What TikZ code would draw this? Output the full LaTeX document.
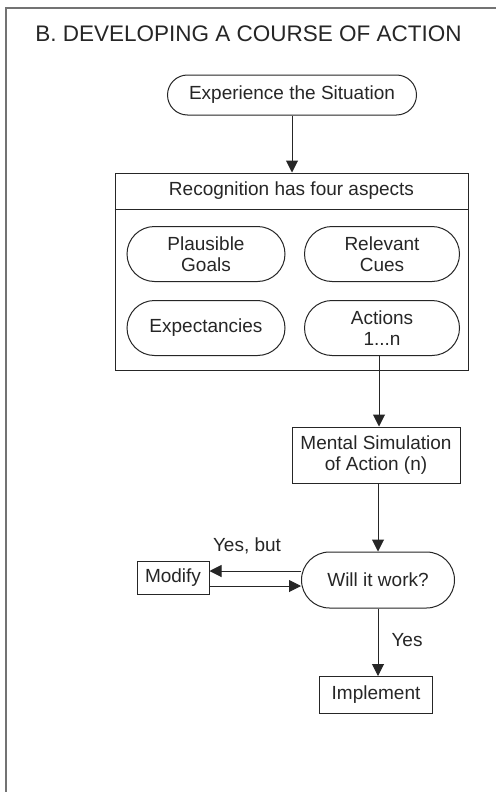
\documentclass[tikz,border=0pt]{standalone}
\usepackage{fontspec}
\setmainfont{Liberation Sans}
\usetikzlibrary{arrows.meta,shapes.misc}
\tikzset{
  lbl/.style={font=\fontsize{19}{21}\selectfont, text=black!85},
  pill/.style={draw=black!85, line width=1pt, rounded rectangle, inner sep=0pt, align=center, lbl},
  sqbox/.style={draw=black!85, line width=1pt, rectangle, inner sep=0pt, align=center, lbl},
  arr/.style={draw=black!85, line width=1pt, -{Triangle[length=12pt,width=12pt]}},
}
\begin{document}
\begin{tikzpicture}[x=1pt,y=-1pt]
\useasboundingbox (0,0) rectangle (496,792);
\fill[white] (0,0) rectangle (496,792);
% frame
\draw[black!55, line width=1.4pt] (6,792) -- (6,8) -- (496,8);
% title
\node[font=\fontsize{22.5}{26}\selectfont, text=black!85] (title) at (248.5,34) {B. DEVELOPING A COURSE OF ACTION};
% nodes
\node[pill, minimum width=249pt, minimum height=40pt] (exp) at (292,95) {Experience the Situation};
\node[sqbox, minimum width=353pt, minimum height=197pt] (rec) at (291.5,271.5) {};
\node[lbl, minimum height=36pt, inner sep=0pt] (hdr) at (291.5,191) {Recognition has four aspects};
\draw[black!85, line width=1pt] (rec.west |- hdr.south) -- (rec.east |- hdr.south);
\node[pill, minimum width=158pt, minimum height=55pt] (pg) at (206,254) {Plausible\\Goals};
\node[pill, minimum width=155pt, minimum height=55pt] (rc) at (382,254) {Relevant\\Cues};
\node[pill, minimum width=158pt, minimum height=55pt] (ex) at (206,328) {Expectancies};
\node[pill, minimum width=155pt, minimum height=55pt] (ac) at (382,328) {Actions\\1...n};
\node[sqbox, minimum width=168pt, minimum height=56pt] (ms) at (376,455) {Mental Simulation\\of Action (n)};
\node[pill, minimum width=153pt, minimum height=56pt] (ww) at (378,580) {Will it work?};
\node[sqbox, minimum width=72pt, minimum height=33pt] (mod) at (173,578) {Modify};
\node[sqbox, minimum width=113pt, minimum height=37pt] (imp) at (376,695) {Implement};
% labels
\node[lbl] (yb) at (247,546) {Yes, but};
\node[lbl] (yes) at (407,640) {Yes};
% connectors
\draw[arr] (exp.south) -- (exp.south |- rec.north);
\draw[arr] ([xshift=-3pt]ac.south) -- ([xshift=-3pt]ac.south |- ms.north);
\draw[arr] (ww.north |- ms.south) -- (ww.north);
\draw[arr] ([yshift=9pt]ww.west) -- ([yshift=9pt]ww.west -| mod.east);
\draw[arr] ([yshift=-8pt]mod.east) -- ([yshift=-8pt]mod.east -| ww.west);
\draw[arr] (ww.south) -- (ww.south |- imp.north);
\end{tikzpicture}
\end{document}
